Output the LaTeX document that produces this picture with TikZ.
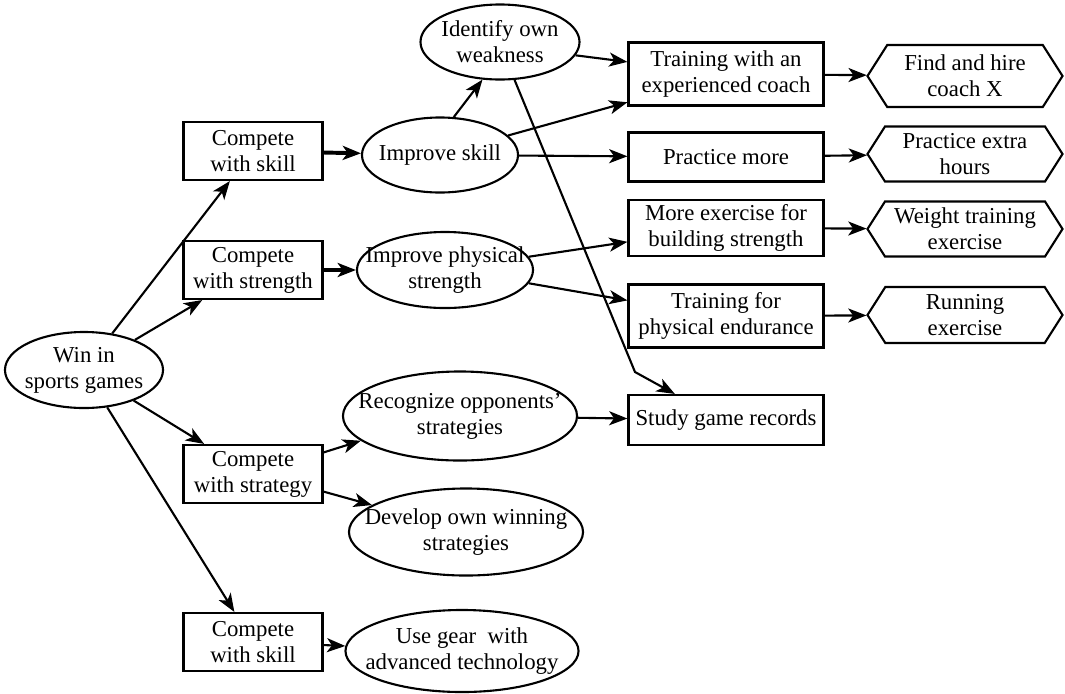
\documentclass[tikz,border=0pt]{standalone}
\usepackage{fontspec}
\setmainfont{Liberation Serif}
\usetikzlibrary{shapes.geometric, shapes.symbols, arrows.meta}

\begin{document}
\begin{tikzpicture}[x=0.025cm, y=-0.025cm, line width=1.5pt,
    >={Stealth[length=13pt, width=10pt, inset=3.5pt]},
    every node/.style={font=\fontsize{16.2}{18.5}\selectfont, align=center},
    goalbox/.style={draw, rectangle, inner sep=2pt, minimum width=3.475cm, minimum height=1.45cm},
    actbox/.style={draw, rectangle, inner sep=2pt, minimum width=4.875cm},
    oval/.style={draw, ellipse, inner sep=-30pt},
    task/.style={draw, signal, signal to=west and east, signal pointer angle=115,
        inner sep=2pt, minimum width=4.875cm},
    bold/.style={line width=2.8pt}]
    \useasboundingbox (0,0) rectangle (1065,693);

    \node[oval, minimum width=3.95cm, minimum height=1.9cm] (win) at (84,370) {Win in\\sports games};

    \node[goalbox] (cskill) at (253,151) {Compete\\with skill};
    \node[goalbox] (cstrength) at (253,270) {Compete\\with strength};
    \node[goalbox] (cstrategy) at (253,474) {Compete\\with strategy};
    \node[goalbox] (cgear) at (253,642) {Compete\\with skill};

    \node[oval, minimum width=3.9cm, minimum height=1.875cm] (impskill) at (440,155) {Improve skill};
    \node[oval, minimum width=3.975cm, minimum height=1.875cm] (weak) at (500,42) {Identify own\\weakness};
    \node[oval, minimum width=4.4cm, minimum height=1.9cm] (impstr) at (445,270) {Improve physical\\strength};
    \node[oval, minimum width=5.85cm, minimum height=2.225cm] (recog) at (460,416) {Recognize opponents'\\strategies};
    \node[oval, minimum width=5.85cm, minimum height=2.175cm] (develop) at (466,532) {Develop own winning\\strategies};
    \node[oval, minimum width=5.825cm, minimum height=2.05cm] (gear) at (462,651) {Use gear~ with\\advanced technology};

    \node[actbox, minimum height=1.575cm] (coach) at (726,74) {Training with an\\experienced coach};
    \node[actbox, minimum height=1.225cm] (more) at (726,157) {Practice more};
    \node[actbox, minimum height=1.4cm] (build) at (726,228) {More exercise for\\building strength};
    \node[actbox, minimum height=1.575cm] (endur) at (726,316) {Training for\\physical endurance};
    \node[actbox, minimum height=1.25cm] (records) at (726,420) {Study game records};

    \node[task, minimum height=1.55cm] (hire) at (965,76) {Find and hire\\coach X};
    \node[task, minimum height=1.375cm] (extra) at (965,154) {Practice extra\\hours};
    \node[task, minimum height=1.375cm] (weight) at (965,229) {Weight training\\exercise};
    \node[task, minimum height=1.4cm] (running) at (965,315) {Running\\exercise};

    \draw[->] (win) -- (cskill);
    \draw[->] (win) -- (cstrength);
    \draw[->] (win) -- (cstrategy);
    \draw[->] (win) -- (cgear);

    \draw[->, bold] (cskill) -- (impskill);
    \draw[->, bold] (cstrength) -- (impstr);
    \draw[->] (cstrategy.17) -- (recog.194);
    \draw[->] (cstrategy.-14) -- (develop.164);
    \draw[->] (cgear) -- (gear);

    \draw[->] (impskill.70) -- (weak.245);
    \draw[->] (weak.-10) -- (coach.173);
    \draw[->] (impskill.16) -- (coach.196);
    \draw[->] (impskill) -- (more);
    \coordinate (kink) at (635,372);
    \draw[->] (weak.-69) -- (kink) -- (records.153);
    \draw[->] (impstr.9) -- (build.188);
    \draw[->] (impstr.-9) -- (endur.171);
    \draw[->] (recog) -- (records);

    \draw[->] (coach) -- (hire);
    \draw[->] (more) -- (extra);
    \draw[->] (build) -- (weight);
    \draw[->] (endur) -- (running);
\end{tikzpicture}
\end{document}
